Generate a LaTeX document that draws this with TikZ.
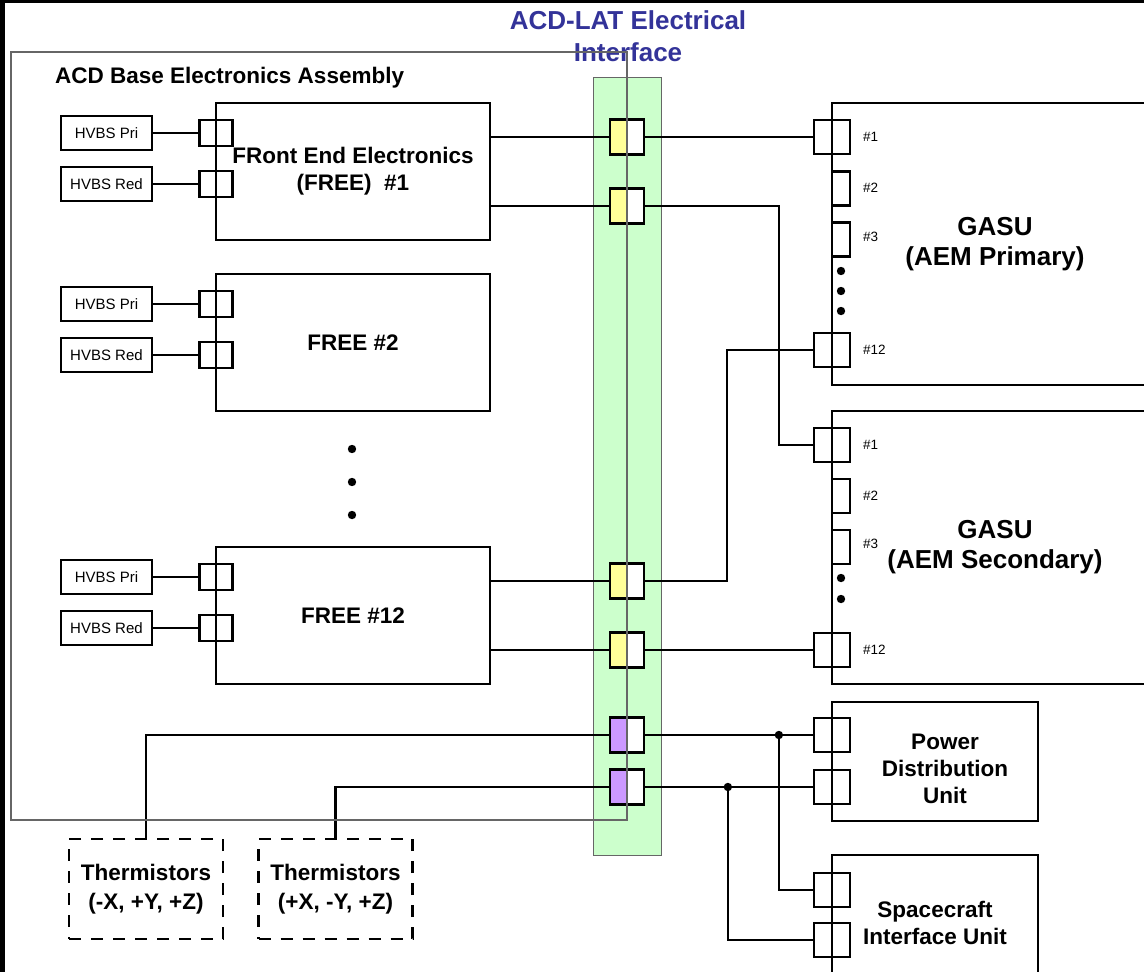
\documentclass[tikz,border=0pt]{standalone}
\usepackage{fontspec}
\setmainfont{Liberation Sans}
\usepackage{tikz}
\usetikzlibrary{positioning, calc}

\definecolor{ifgreen}{HTML}{CCFFCC}
\definecolor{ifyellow}{HTML}{FFFF99}
\definecolor{ifpurple}{HTML}{CC99FF}
\definecolor{ifblue}{HTML}{333399}
\definecolor{assygray}{HTML}{666666}

\begin{document}
\begin{tikzpicture}[
    x=1pt, y=-1pt,
    wire/.style={line width=2.2pt},
    unit/.style={draw, line width=2.2pt, align=center, inner sep=0pt, font=\bfseries\fontsize{22.5}{27}\selectfont},
    big/.style={font=\bfseries\fontsize{26}{30}\selectfont},
    hvbs/.style={draw, line width=2.2pt, minimum width=91pt, minimum height=34pt, inner sep=0pt, font=\fontsize{15}{18}\selectfont},
    port/.style={draw, line width=2.2pt, minimum width=33pt, minimum height=26pt, inner sep=0pt},
    gport/.style={draw, line width=2.2pt, minimum width=36pt, minimum height=34pt, inner sep=0pt},
    halfport/.style={draw, line width=2.2pt, minimum width=18pt, minimum height=34pt, inner sep=0pt},
    iface/.style={draw, line width=2.2pt, fill=white, minimum width=34pt, minimum height=35pt, inner sep=0pt,
        path picture={\fill[#1] (path picture bounding box.south west) rectangle (path picture bounding box.north);}},
    num/.style={anchor=west, inner sep=0pt, font=\fontsize{13.5}{16}\selectfont},
    therm/.style={draw, line width=2.2pt, dash pattern=on 12pt off 10pt, align=center, minimum width=154pt, minimum height=100pt, inner sep=0pt, font=\bfseries\fontsize{22.5}{29}\selectfont}
]
\useasboundingbox (0,0) rectangle (1144,972);
\clip (0,0) rectangle (1144,972);

% page edge
\fill (0,0) rectangle (5,972);
\fill (0,0) rectangle (1144,3);

% interface band
\node[big, text=ifblue, align=center, inner sep=0pt, font=\bfseries\fontsize{26}{32}\selectfont] (iftitle) at (628,36) {ACD-LAT Electrical\\Interface};
\node[draw=assygray, fill=ifgreen, minimum width=68pt, minimum height=778pt, inner sep=0pt] (band) at (627,466) {};

% FREE boards with their HVBS
\foreach \n/\yy/\txt in {1/103/{FRont End Electronics\\(FREE)\ \ \#1}, 2/274/{FREE \#2}, 12/547/{FREE \#12}} {
    \node[unit, minimum width=274pt, minimum height=137pt] (free\n) at (353,\yy+68.5) {\txt};
    \node[port] (fpri\n) at (216,\yy+30) {};
    \node[port] (fred\n) at (216,\yy+81) {};
    \node[hvbs] (hpri\n) at (106.5,\yy+30) {HVBS Pri};
    \node[hvbs] (hred\n) at (106.5,\yy+81) {HVBS Red};
    \draw[wire] (hpri\n) -- (fpri\n);
    \draw[wire] (hred\n) -- (fred\n);
}
\foreach \yy in {449,482,515}
    \fill (352,\yy) circle[radius=4.2pt];

% interface connectors
\node[iface=ifyellow] (ia) at (627,137) {};
\node[iface=ifyellow] (ib) at (627,206) {};
\node[iface=ifyellow] (ic) at (627,581) {};
\node[iface=ifyellow] (id) at (627,650) {};
\node[iface=ifpurple] (pa) at (627,735) {};
\node[iface=ifpurple] (pb) at (627,787) {};

% GASU primary
\node[unit, big, minimum width=326pt, minimum height=282pt] (gpri) at (995,244) {GASU\\(AEM Primary)};
\node[gport] (pp1) at (832,137) {};
\node[halfport] (pp2) at (841,188.5) {};
\node[halfport] (pp3) at (841,239.5) {};
\node[gport] (pp12) at (832,350) {};
\node[num] (lpp1) at (863,137) {\#1};
\node[num] (lpp2) at (863,188) {\#2};
\node[num] (lpp3) at (863,237) {\#3};
\node[num] (lpp12) at (863,350) {\#12};
\foreach \yy in {271,291,311}
    \fill (841,\yy) circle[radius=4.2pt];

% GASU secondary
\node[unit, big, minimum width=326pt, minimum height=273pt] (gsec) at (995,547.5) {GASU\\(AEM Secondary)};
\node[gport] (sp1) at (832,445) {};
\node[halfport] (sp2) at (841,496) {};
\node[halfport] (sp3) at (841,547) {};
\node[gport] (sp12) at (832,650) {};
\node[num] (lsp1) at (863,445) {\#1};
\node[num] (lsp2) at (863,496) {\#2};
\node[num] (lsp3) at (863,544) {\#3};
\node[num] (lsp12) at (863,650) {\#12};
\foreach \yy in {578,599}
    \fill (841,\yy) circle[radius=4.2pt];

% PDU and SIU
\node[unit, minimum width=206pt, minimum height=119pt] (pdu) at (935,761.5) {};
\node[unit, draw=none] (pdutext) at (945,769) {Power\\Distribution\\Unit};
\node[gport] (pdu1) at (832,735) {};
\node[gport] (pdu2) at (832,787) {};
\node[unit, minimum width=206pt, minimum height=136pt] (siu) at (935,923) {Spacecraft\\Interface Unit};
\node[gport] (siu1) at (832,890) {};
\node[gport] (siu2) at (832,940) {};

% thermistors
\node[therm] (th1) at (146,889) {Thermistors\\(-X, +Y, +Z)};
\node[therm] (th2) at (335.5,889) {Thermistors\\(+X, -Y, +Z)};

% harness
\draw[wire] (free1.east |- ia) -- (ia.west);
\draw[wire] (ia.east) -- (pp1.west);
\draw[wire] (free1.east |- ib) -- (ib.west);
\draw[wire] (ib.east) -| ([xshift=-34pt]sp1.west) -- (sp1.west);
\draw[wire] (free12.east |- ic) -- (ic.west);
\draw[wire] (ic.east) -| ([xshift=-86pt]pp12.west) -- (pp12.west);
\draw[wire] (free12.east |- id) -- (id.west);
\draw[wire] (id.east) -- (sp12.west);
\coordinate (ja) at ([xshift=-34pt]pdu1.west);
\coordinate (jb) at ([xshift=-85pt]pdu2.west);
\draw[wire] (pa.east) -- (pdu1.west);
\draw[wire] (ja) |- (siu1.west);
\draw[wire] (pb.east) -- (pdu2.west);
\draw[wire] (jb) |- (siu2.west);
\fill (ja) circle[radius=4.2pt];
\fill (jb) circle[radius=4.2pt];
\draw[wire] (pa.west) -| (th1.north);
\draw[wire] (pb.west) -| (th2.north);

% base electronics assembly outline
\node[draw=assygray, line width=1.3pt, minimum width=616pt, minimum height=768pt, inner sep=0pt] (assembly) at (319,436) {};
\node[anchor=base west, inner sep=0pt, font=\bfseries\fontsize{22.5}{26}\selectfont] (assytitle) at (55,83) {ACD Base Electronics Assembly};

\end{tikzpicture}
\end{document}
